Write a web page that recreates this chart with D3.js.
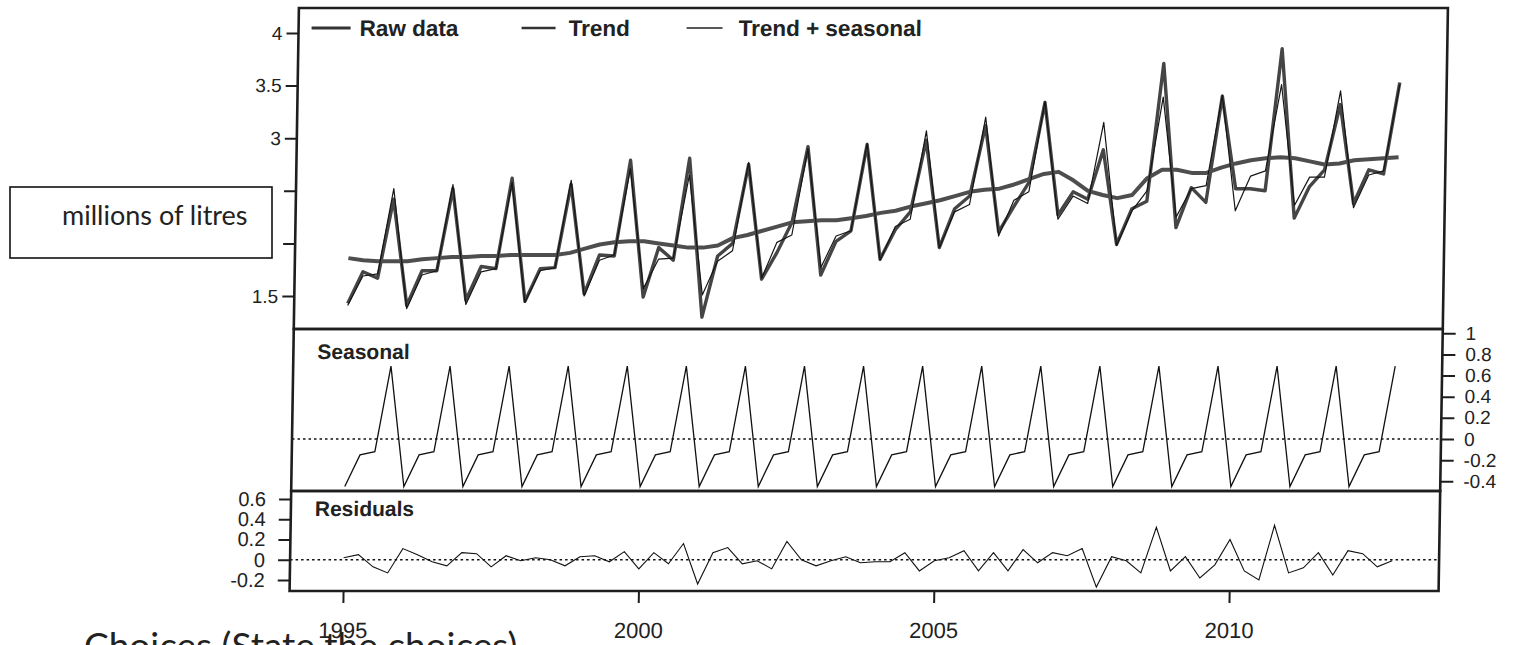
<!DOCTYPE html>
<html>
<head>
<meta charset="utf-8">
<script src="https://cdn.jsdelivr.net/npm/d3@7"></script>
<style>
  html, body { margin: 0; padding: 0; background: #fff; overflow: hidden; }
  svg { display: block; }
</style>
</head>
<body>
<svg id="chart" width="1518" height="645"></svg>
<script>
// Quarterly series, first observation 1995 Q1
const startYear = 1995;
const perYear = 4;

// Raw data, millions of litres
const rawData = [
  1.43, 1.73, 1.67, 2.42,  1.41, 1.74, 1.74, 2.52,  1.46, 1.78, 1.76, 2.62,
  1.45, 1.76, 1.77, 2.56,  1.52, 1.89, 1.88, 2.79,  1.49, 1.96, 1.84, 2.81,
  1.30, 1.88, 2.00, 2.75,  1.66, 1.91, 2.20, 2.92,  1.70, 2.02, 2.12, 2.94,
  1.85, 2.13, 2.30, 2.98,  1.96, 2.33, 2.45, 3.12,  2.11, 2.35, 2.58, 3.34,
  2.27, 2.49, 2.42, 2.89,  1.99, 2.33, 2.40, 3.71,  2.15, 2.53, 2.39, 3.40,
  2.52, 2.52, 2.50, 3.85,  2.24, 2.54, 2.70, 3.32,  2.38, 2.70, 2.66, 3.53
];

// Trend component
const trend = [
  1.86, 1.84, 1.83, 1.83,  1.83, 1.85, 1.86, 1.87,  1.87, 1.88, 1.88, 1.89,
  1.89, 1.89, 1.89, 1.91,  1.95, 1.99, 2.01, 2.02,  2.02, 2.00, 1.98, 1.96,
  1.96, 1.98, 2.05, 2.08,  2.12, 2.16, 2.20, 2.21,  2.22, 2.22, 2.24, 2.26,
  2.29, 2.31, 2.35, 2.38,  2.41, 2.45, 2.49, 2.51,  2.52, 2.56, 2.61, 2.66,
  2.68, 2.60, 2.50, 2.46,  2.43, 2.46, 2.62, 2.70,  2.70, 2.67, 2.67, 2.72,
  2.76, 2.79, 2.81, 2.82,  2.81, 2.78, 2.75, 2.76,  2.79, 2.80, 2.81, 2.82
];

// Seasonal effect for Q1..Q4 (repeats every year)
const seasonalPattern = [-0.45, -0.15, -0.12, 0.69];

// Irregular component
const residuals = [
   0.02,  0.05, -0.07, -0.13,   0.11,  0.05, -0.02, -0.06,   0.07,  0.06, -0.07,  0.04,
  -0.01,  0.02,  0.00, -0.06,   0.03,  0.04, -0.02,  0.08,  -0.09,  0.07, -0.04,  0.16,
  -0.24,  0.07,  0.12, -0.04,  -0.01, -0.09,  0.18,  0.00,  -0.06, -0.01,  0.03, -0.03,
  -0.02, -0.02,  0.07, -0.11,  -0.01,  0.02,  0.09, -0.11,   0.07, -0.11,  0.10, -0.03,
   0.07,  0.04,  0.11, -0.27,   0.03, -0.01, -0.13,  0.32,  -0.11,  0.03, -0.18, -0.05,
   0.20, -0.11, -0.20,  0.34,  -0.13, -0.08,  0.07, -0.15,   0.09,  0.06, -0.07, -0.01
];

const legendLabels = ["Raw data", "Trend", "Trend + seasonal"];
const yearTicks = [1995, 2000, 2005, 2010];
const levelTicks = [1.5, 2, 2.5, 3, 3.5, 4];
const levelTicksUnderNote = [2, 2.5];
const seasonalTicks = [-0.4, -0.2, 0, 0.2, 0.4, 0.6, 0.8, 1];
const residualTicks = [-0.2, 0, 0.2, 0.4, 0.6];
const panelTitles = ["Seasonal", "Residuals"];
const unitNote = "millions of litres";
const footNote = "Choices (State the choices)";

// ---- derived series ----
const time = rawData.map((_, i) => startYear + i / perYear);
const seasonal = time.map((_, i) => seasonalPattern[i % perYear]);
const trendSeasonal = trend.map((v, i) => v + seasonal[i]);

// ---- layout ----
const svg = d3.select("#chart");
const left = 292, right = 1441;
const topPanel = { y0: 8, y1: 329 };
const seaPanel = { y0: 329, y1: 491 };
const resPanel = { y0: 491, y1: 591 };
const shear = 0.016, shearRef = 440;   // the printed page is slightly sheared

const x = d3.scaleLinear().domain([1995, 2010]).range([345.5, 1231.6]);
const yTop = d3.scaleLinear().domain([1.5, 4]).range([296, 33]);
const ySea = d3.scaleLinear().domain([0, 1]).range([439, 333.3]);
const yRes = d3.scaleLinear().domain([-0.2, 0.6]).range([580, 499]);

const ink = "#222";
const fontAxis = "'Liberation Sans', Arial, sans-serif";
const fontNarrow = "'Liberation Sans Narrow', 'Arial Narrow', 'Liberation Sans', sans-serif";
const fontNote = "Lato, 'Open Sans', sans-serif";

const g = svg.append("g")
  .attr("transform", `translate(${shear * shearRef},0) skewX(${-Math.atan(shear) * 180 / Math.PI})`);

const lineOf = (ys, yScale) => d3.line()
  .x((d, i) => x(time[i]))
  .y(d => yScale(d))(ys);

// ---- top panel: raw, trend, trend + seasonal ----
g.append("path").attr("d", lineOf(rawData, yTop))
  .attr("fill", "none").attr("stroke", "#454545").attr("stroke-width", 3.4)
  .attr("stroke-linejoin", "round");
g.append("path").attr("d", lineOf(trend, yTop))
  .attr("fill", "none").attr("stroke", "#4e4e4e").attr("stroke-width", 4)
  .attr("stroke-linejoin", "round");
g.append("path").attr("d", lineOf(trendSeasonal, yTop))
  .attr("fill", "none").attr("stroke", "#151515").attr("stroke-width", 1.2)
  .attr("stroke-linejoin", "round");

// legend
const legendItems = [
  { label: legendLabels[0], x0: 305, x1: 344, tx: 353, w: 3.2, c: "#333" },
  { label: legendLabels[1], x0: 515, x1: 549, tx: 562, w: 2.6, c: "#333" },
  { label: legendLabels[2], x0: 680, x1: 716, tx: 732, w: 1.3, c: "#222" }
];
legendItems.forEach(it => {
  g.append("line").attr("x1", it.x0).attr("x2", it.x1).attr("y1", 28).attr("y2", 28)
    .attr("stroke", it.c).attr("stroke-width", it.w);
  g.append("text").attr("x", it.tx).attr("y", 36).text(it.label)
    .attr("font-family", fontAxis).attr("font-weight", "bold")
    .attr("font-size", 22.5).attr("fill", ink);
});

// ---- seasonal panel ----
g.append("line").attr("x1", left).attr("x2", right)
  .attr("y1", ySea(0)).attr("y2", ySea(0))
  .attr("stroke", "#111").attr("stroke-width", 1.5).attr("stroke-dasharray", "2.5,3");
g.append("path").attr("d", lineOf(seasonal, ySea))
  .attr("fill", "none").attr("stroke", "#111").attr("stroke-width", 1.3);

// ---- residual panel ----
g.append("line").attr("x1", left).attr("x2", right)
  .attr("y1", yRes(0)).attr("y2", yRes(0))
  .attr("stroke", "#111").attr("stroke-width", 1.5).attr("stroke-dasharray", "2.5,3");
g.append("path").attr("d", lineOf(residuals, yRes))
  .attr("fill", "none").attr("stroke", "#111").attr("stroke-width", 1.1);

// panel titles
[[panelTitles[0], 359], [panelTitles[1], 516]].forEach(([t, y]) => {
  g.append("text").attr("x", 316).attr("y", y).text(t)
    .attr("font-family", fontAxis).attr("font-weight", "bold")
    .attr("font-size", 21).attr("fill", ink);
});

// frames
[topPanel, seaPanel, resPanel].forEach(p => {
  g.append("rect").attr("x", left).attr("y", p.y0)
    .attr("width", right - left).attr("height", p.y1 - p.y0)
    .attr("fill", "none").attr("stroke", "#1e1e1e").attr("stroke-width", 2.6);
});

// ---- axes ----
function styleAxis(sel, font, size) {
  sel.select(".domain").remove();
  sel.selectAll(".tick line").attr("stroke", "#1e1e1e").attr("stroke-width", 2);
  sel.selectAll(".tick text").attr("fill", ink)
    .attr("font-family", font).attr("font-size", size);
}

g.append("g").attr("transform", `translate(${left},0)`)
  .call(d3.axisLeft(yTop).tickValues(levelTicks).tickSize(12).tickPadding(4)
    .tickFormat(d => levelTicksUnderNote.includes(d) ? "" : String(d)))
  .call(s => styleAxis(s, fontAxis, 19));

g.append("g").attr("transform", `translate(${right},0)`)
  .call(d3.axisRight(ySea).tickValues(seasonalTicks).tickSize(13).tickPadding(10)
    .tickFormat(d => String(d)))
  .call(s => styleAxis(s, fontAxis, 19));

g.append("g").attr("transform", `translate(${left},0)`)
  .call(d3.axisLeft(yRes).tickValues(residualTicks).tickSize(12).tickPadding(13)
    .tickFormat(d => String(d)))
  .call(s => styleAxis(s, fontAxis, 20));

g.append("g").attr("transform", `translate(0,${resPanel.y1})`)
  .call(d3.axisBottom(x).tickValues(yearTicks).tickSize(12).tickPadding(19)
    .tickFormat(d => String(d)))
  .call(s => styleAxis(s, fontNarrow, 22));

// ---- unit note box ----
svg.append("rect").attr("x", 10).attr("y", 187).attr("width", 262).attr("height", 71)
  .attr("fill", "#fff").attr("stroke", "#111").attr("stroke-width", 1.6);
svg.append("text").attr("x", 62).attr("y", 225).text(unitNote)
  .attr("font-family", fontNote).attr("font-size", 27)
  .attr("fill", "#222");

// ---- caption line running off the bottom of the page ----
svg.append("text").attr("x", 84).attr("y", 659).text(footNote)
  .attr("font-family", fontNote).attr("font-size", 37)
  .attr("fill", "#222");
</script>
</body>
</html>
